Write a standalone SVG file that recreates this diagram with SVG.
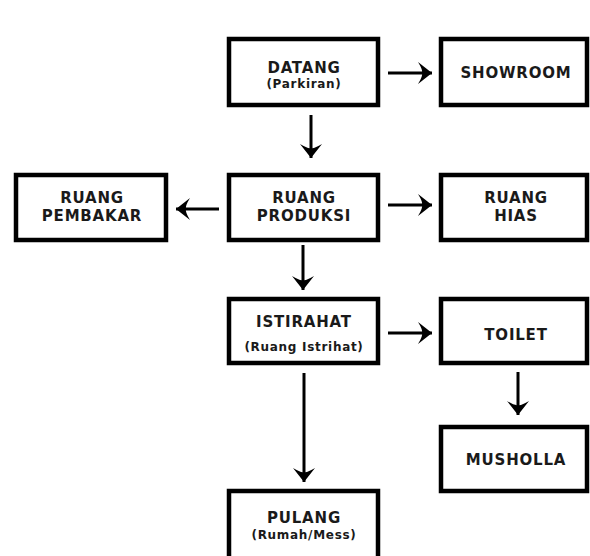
<svg xmlns="http://www.w3.org/2000/svg" width="590" height="556" viewBox="0 0 590 556">
<style>
.box{fill:#fff;stroke:#000;stroke-width:4.5}
.t{font-family:"DejaVu Sans",Verdana,sans-serif;font-weight:bold;font-size:15px;letter-spacing:0.8px;text-anchor:middle;fill:#1a1a1a}
.s{font-family:"DejaVu Sans",Verdana,sans-serif;font-weight:bold;font-size:12px;letter-spacing:0.7px;text-anchor:middle;fill:#1a1a1a}
.c{stroke:#000;stroke-width:3;fill:none;marker-end:url(#ah)}
</style>
<defs>
<marker id="ah" markerUnits="userSpaceOnUse" markerWidth="20" markerHeight="26" refX="15" refY="12" orient="auto" viewBox="0 0 20 26">
<path d="M15,12 L1,1 Q6,9 5,12 Q6,15 1,23 Z" fill="#000"/>
</marker>
</defs>
<rect width="590" height="556" fill="#fff"/>
<g id="connectors">
<line class="c" x1="388" y1="73" x2="432" y2="73"/>
<line class="c" x1="311" y1="115" x2="311" y2="158"/>
<line class="c" x1="219" y1="209" x2="176" y2="209"/>
<line class="c" x1="388" y1="205" x2="432" y2="205"/>
<line class="c" x1="303" y1="245" x2="303" y2="290"/>
<line class="c" x1="388" y1="333" x2="432" y2="333"/>
<line class="c" x1="518" y1="372" x2="518" y2="415"/>
<line class="c" x1="304" y1="373" x2="304" y2="482"/>
</g>
<g id="datang">
<rect class="box" x="229" y="39" width="149" height="66"/>
<text class="t" x="304" y="73">DATANG</text>
<text class="s" x="304" y="88">(Parkiran)</text>
</g>
<g id="showroom">
<rect class="box" x="441" y="39" width="146" height="66"/>
<text class="t" x="516" y="78">SHOWROOM</text>
</g>
<g id="pembakar">
<rect class="box" x="16" y="175" width="150" height="65"/>
<text class="t" x="92" y="203">RUANG</text>
<text class="t" x="92" y="221">PEMBAKAR</text>
</g>
<g id="produksi">
<rect class="box" x="229" y="175" width="149" height="65"/>
<text class="t" x="304" y="203">RUANG</text>
<text class="t" x="304" y="221">PRODUKSI</text>
</g>
<g id="hias">
<rect class="box" x="441" y="175" width="146" height="65"/>
<text class="t" x="516" y="203">RUANG</text>
<text class="t" x="516" y="221">HIAS</text>
</g>
<g id="istirahat">
<rect class="box" x="229" y="299" width="149" height="64"/>
<text class="t" x="304" y="327">ISTIRAHAT</text>
<text class="s" x="304" y="351">(Ruang Istrihat)</text>
</g>
<g id="toilet">
<rect class="box" x="441" y="299" width="146" height="64"/>
<text class="t" x="516" y="340">TOILET</text>
</g>
<g id="musholla">
<rect class="box" x="441" y="427" width="146" height="64"/>
<text class="t" x="516" y="465">MUSHOLLA</text>
</g>
<g id="pulang">
<rect class="box" x="229" y="491" width="149" height="80"/>
<text class="t" x="304" y="523">PULANG</text>
<text class="s" x="304" y="539">(Rumah/Mess)</text>
</g>
</svg>
